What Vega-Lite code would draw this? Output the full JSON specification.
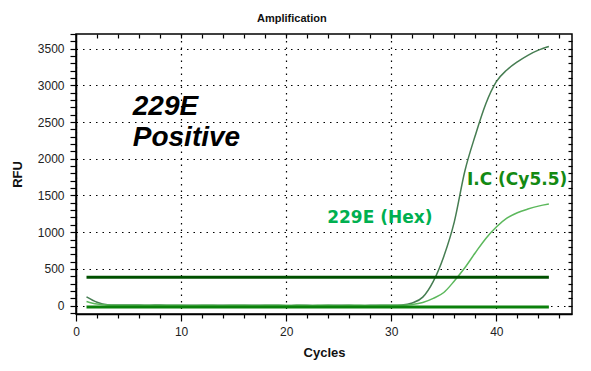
{
  "$schema": "https://vega.github.io/schema/vega-lite/v6.json",
  "width": 496,
  "height": 280,
  "autosize": {"type": "none"},
  "padding": {"left": 76, "top": 34, "right": 19, "bottom": 57},
  "background": "white",
  "config": {"view": {"stroke": "black", "strokeWidth": 1.5}, "font": "Liberation Sans"},
  "title": {"text": "Amplification", "fontSize": 11, "fontWeight": "bold", "font": "Liberation Sans", "anchor": "start", "frame": "group", "dx": 181, "offset": -5, "baseline": "alphabetic", "color": "#111"},
  "datasets": {
    "curves": [
      {"cycle": 1, "rfu": 118, "series": "I.C"}, {"cycle": 2, "rfu": 45, "series": "I.C"}, {"cycle": 3, "rfu": 12, "series": "I.C"}, {"cycle": 4, "rfu": 8, "series": "I.C"}, {"cycle": 5, "rfu": 6, "series": "I.C"},
      {"cycle": 6, "rfu": 6, "series": "I.C"}, {"cycle": 7, "rfu": 5, "series": "I.C"}, {"cycle": 8, "rfu": 7, "series": "I.C"}, {"cycle": 9, "rfu": 4, "series": "I.C"}, {"cycle": 10, "rfu": 3, "series": "I.C"},
      {"cycle": 11, "rfu": 3, "series": "I.C"}, {"cycle": 12, "rfu": 4, "series": "I.C"}, {"cycle": 13, "rfu": 3, "series": "I.C"}, {"cycle": 14, "rfu": 4, "series": "I.C"}, {"cycle": 15, "rfu": 3, "series": "I.C"},
      {"cycle": 16, "rfu": 3, "series": "I.C"}, {"cycle": 17, "rfu": 4, "series": "I.C"}, {"cycle": 18, "rfu": 3, "series": "I.C"}, {"cycle": 19, "rfu": 3, "series": "I.C"}, {"cycle": 20, "rfu": 2, "series": "I.C"},
      {"cycle": 21, "rfu": 3, "series": "I.C"}, {"cycle": 22, "rfu": 3, "series": "I.C"}, {"cycle": 23, "rfu": 2, "series": "I.C"}, {"cycle": 24, "rfu": 3, "series": "I.C"}, {"cycle": 25, "rfu": 3, "series": "I.C"},
      {"cycle": 26, "rfu": 3, "series": "I.C"}, {"cycle": 27, "rfu": 2, "series": "I.C"}, {"cycle": 28, "rfu": 3, "series": "I.C"}, {"cycle": 29, "rfu": 3, "series": "I.C"}, {"cycle": 30, "rfu": 4, "series": "I.C"},
      {"cycle": 31, "rfu": 8, "series": "I.C"}, {"cycle": 32, "rfu": 35, "series": "I.C"}, {"cycle": 33, "rfu": 115, "series": "I.C"}, {"cycle": 34, "rfu": 330, "series": "I.C"}, {"cycle": 35, "rfu": 670, "series": "I.C"},
      {"cycle": 36, "rfu": 1140, "series": "I.C"}, {"cycle": 37, "rfu": 1830, "series": "I.C"}, {"cycle": 38, "rfu": 2320, "series": "I.C"}, {"cycle": 39, "rfu": 2750, "series": "I.C"}, {"cycle": 40, "rfu": 3050, "series": "I.C"},
      {"cycle": 41, "rfu": 3210, "series": "I.C"}, {"cycle": 42, "rfu": 3320, "series": "I.C"}, {"cycle": 43, "rfu": 3410, "series": "I.C"}, {"cycle": 44, "rfu": 3480, "series": "I.C"}, {"cycle": 45, "rfu": 3530, "series": "I.C"},
      {"cycle": 1, "rfu": 55, "series": "Hex"}, {"cycle": 2, "rfu": 20, "series": "Hex"}, {"cycle": 3, "rfu": 8, "series": "Hex"}, {"cycle": 4, "rfu": 5, "series": "Hex"}, {"cycle": 5, "rfu": 4, "series": "Hex"},
      {"cycle": 6, "rfu": 4, "series": "Hex"}, {"cycle": 7, "rfu": 3, "series": "Hex"}, {"cycle": 8, "rfu": 4, "series": "Hex"}, {"cycle": 9, "rfu": 3, "series": "Hex"}, {"cycle": 10, "rfu": 3, "series": "Hex"},
      {"cycle": 11, "rfu": 2, "series": "Hex"}, {"cycle": 12, "rfu": 3, "series": "Hex"}, {"cycle": 13, "rfu": 3, "series": "Hex"}, {"cycle": 14, "rfu": 2, "series": "Hex"}, {"cycle": 15, "rfu": 3, "series": "Hex"},
      {"cycle": 16, "rfu": 3, "series": "Hex"}, {"cycle": 17, "rfu": 2, "series": "Hex"}, {"cycle": 18, "rfu": 3, "series": "Hex"}, {"cycle": 19, "rfu": 3, "series": "Hex"}, {"cycle": 20, "rfu": 2, "series": "Hex"},
      {"cycle": 21, "rfu": 3, "series": "Hex"}, {"cycle": 22, "rfu": 2, "series": "Hex"}, {"cycle": 23, "rfu": 3, "series": "Hex"}, {"cycle": 24, "rfu": 3, "series": "Hex"}, {"cycle": 25, "rfu": 2, "series": "Hex"},
      {"cycle": 26, "rfu": 3, "series": "Hex"}, {"cycle": 27, "rfu": 3, "series": "Hex"}, {"cycle": 28, "rfu": 2, "series": "Hex"}, {"cycle": 29, "rfu": 3, "series": "Hex"}, {"cycle": 30, "rfu": 3, "series": "Hex"},
      {"cycle": 31, "rfu": 5, "series": "Hex"}, {"cycle": 32, "rfu": 15, "series": "Hex"}, {"cycle": 33, "rfu": 42, "series": "Hex"}, {"cycle": 34, "rfu": 98, "series": "Hex"}, {"cycle": 35, "rfu": 178, "series": "Hex"},
      {"cycle": 36, "rfu": 335, "series": "Hex"}, {"cycle": 37, "rfu": 515, "series": "Hex"}, {"cycle": 38, "rfu": 720, "series": "Hex"}, {"cycle": 39, "rfu": 915, "series": "Hex"}, {"cycle": 40, "rfu": 1070, "series": "Hex"},
      {"cycle": 41, "rfu": 1190, "series": "Hex"}, {"cycle": 42, "rfu": 1265, "series": "Hex"}, {"cycle": 43, "rfu": 1315, "series": "Hex"}, {"cycle": 44, "rfu": 1355, "series": "Hex"}, {"cycle": 45, "rfu": 1383, "series": "Hex"}
    ],
    "rules": [
      {"name": "threshold", "start": 1, "end": 45, "level": 385},
      {"name": "baseline", "start": 1, "end": 45, "level": -20}
    ],
    "labels": [
      {"text": "229E", "cycle": 5.4, "rfu": 2712, "kind": "big"},
      {"text": "Positive", "cycle": 5.4, "rfu": 2289, "kind": "big"},
      {"text": "I.C (Cy5.5)", "cycle": 37.2, "rfu": 1714, "kind": "ic"},
      {"text": "229E (Hex)", "cycle": 23.9, "rfu": 1196, "kind": "hex"}
    ]
  },
  "resolve": {"axis": {"x": "independent", "y": "independent"}, "scale": {"color": "independent"}},
  "layer": [
    {
      "data": {"name": "curves"},
      "mark": {"type": "line", "strokeWidth": 1.5, "interpolate": "monotone"},
      "encoding": {
        "x": {"field": "cycle", "type": "quantitative", "scale": {"domain": [0, 47.2], "nice": false, "zero": false},
          "axis": {"title": "Cycles", "titleFontSize": 13, "titleFontWeight": "bold", "titleColor": "#111", "titleFont": "Liberation Sans", "titleY": 38, "titleBaseline": "middle",
            "values": [0,2,4,6,8,10,12,14,16,18,20,22,24,26,28,30,32,34,36,38,40,42,44,46], "tickCount": 200, "format": "d",
            "labelExpr": "datum.value % 10 === 0 ? datum.label : ''",
            "labelFontSize": 12, "labelColor": "#222", "labelPadding": 5, "labelFlush": false, "labelOverlap": false,
            "domainColor": "black", "domainWidth": 1.5, "tickColor": "black", "tickWidth": 1.2,
            "tickSize": {"condition": {"test": "datum.value % 10 === 0", "value": 7}, "value": 4},
            "grid": true, "gridColor": "black", "gridDash": [1.5, 5], "gridWidth": 1.2,
            "gridOpacity": {"condition": {"test": "datum.value % 10 === 0", "value": 1}, "value": 0}}},
        "y": {"field": "rfu", "type": "quantitative", "scale": {"domain": [-115, 3700], "nice": false, "zero": false},
          "axis": {"title": "RFU", "titleFontSize": 13, "titleFontWeight": "bold", "titleColor": "#111", "titleFont": "Liberation Sans", "titleX": -59, "titleY": 140, "titleAngle": -90, "titleAlign": "center", "titleBaseline": "middle",
            "values": [-100,0,100,200,300,400,500,600,700,800,900,1000,1100,1200,1300,1400,1500,1600,1700,1800,1900,2000,2100,2200,2300,2400,2500,2600,2700,2800,2900,3000,3100,3200,3300,3400,3500,3600,3700], "tickCount": 200,
            "labelExpr": "datum.value % 500 === 0 ? datum.label : ''", "format": "d",
            "labelFontSize": 12, "labelColor": "#222", "labelPadding": 6, "labelFlush": false, "labelOverlap": false,
            "domainColor": "black", "domainWidth": 1.5, "tickColor": "black", "tickWidth": 1.2, "tickSize": 6,
            "grid": true, "gridColor": "black", "gridDash": [1.5, 5], "gridWidth": 1.2,
            "gridOpacity": {"condition": {"test": "datum.value % 500 === 0 && datum.value >= 0", "value": 1}, "value": 0}}},
        "color": {"field": "series", "type": "nominal", "scale": {"domain": ["I.C", "Hex"], "range": ["#467d52", "#5cb85c"]}, "legend": null}
      }
    },
    {
      "data": {"name": "rules"},
      "mark": {"type": "rule", "strokeWidth": 3},
      "encoding": {
        "x": {"field": "start", "type": "quantitative", "axis": null},
        "x2": {"field": "end"},
        "y": {"field": "level", "type": "quantitative", "axis": null},
        "color": {"field": "name", "type": "nominal", "scale": {"domain": ["threshold", "baseline"], "range": ["#005000", "#0b800b"]}, "legend": null}
      }
    },
    {
      "data": {"name": "curves"},
      "mark": {"type": "point", "opacity": 0},
      "encoding": {
        "x": {"field": "cycle", "type": "quantitative", "axis": {"orient": "top", "title": null, "labels": false, "grid": false, "domain": false, "tickColor": "black", "tickWidth": 1.2, "tickSize": -4, "tickCount": 200, "values": [2,4,6,8,10,12,14,16,18,20,22,24,26,28,30,32,34,36,38,40,42,44,46]}},
        "y": {"field": "rfu", "type": "quantitative", "axis": {"orient": "right", "title": null, "labels": false, "grid": false, "domain": false, "tickColor": "black", "tickWidth": 1.2, "tickSize": -4, "tickCount": 200, "values": [0,100,200,300,400,500,600,700,800,900,1000,1100,1200,1300,1400,1500,1600,1700,1800,1900,2000,2100,2200,2300,2400,2500,2600,2700,2800,2900,3000,3100,3200,3300,3400,3500,3600]}}
      }
    },
    {
      "data": {"name": "labels"},
      "transform": [{"filter": "datum.kind === 'big'"}],
      "mark": {"type": "text", "align": "left", "baseline": "middle", "font": "Liberation Sans", "fontSize": 28, "fontWeight": "bold", "fontStyle": "italic", "color": "black"},
      "encoding": {
        "x": {"field": "cycle", "type": "quantitative", "axis": null},
        "y": {"field": "rfu", "type": "quantitative", "axis": null},
        "text": {"field": "text"}
      }
    },
    {
      "data": {"name": "labels"},
      "transform": [{"filter": "datum.kind !== 'big'"}],
      "mark": {"type": "text", "align": "left", "baseline": "middle", "font": "DejaVu Sans", "fontSize": 17, "fontWeight": "bold"},
      "encoding": {
        "x": {"field": "cycle", "type": "quantitative", "axis": null},
        "y": {"field": "rfu", "type": "quantitative", "axis": null},
        "text": {"field": "text"},
        "color": {"field": "kind", "type": "nominal", "scale": {"domain": ["ic", "hex"], "range": ["#138a13", "#00b050"]}, "legend": null}
      }
    }
  ]
}
